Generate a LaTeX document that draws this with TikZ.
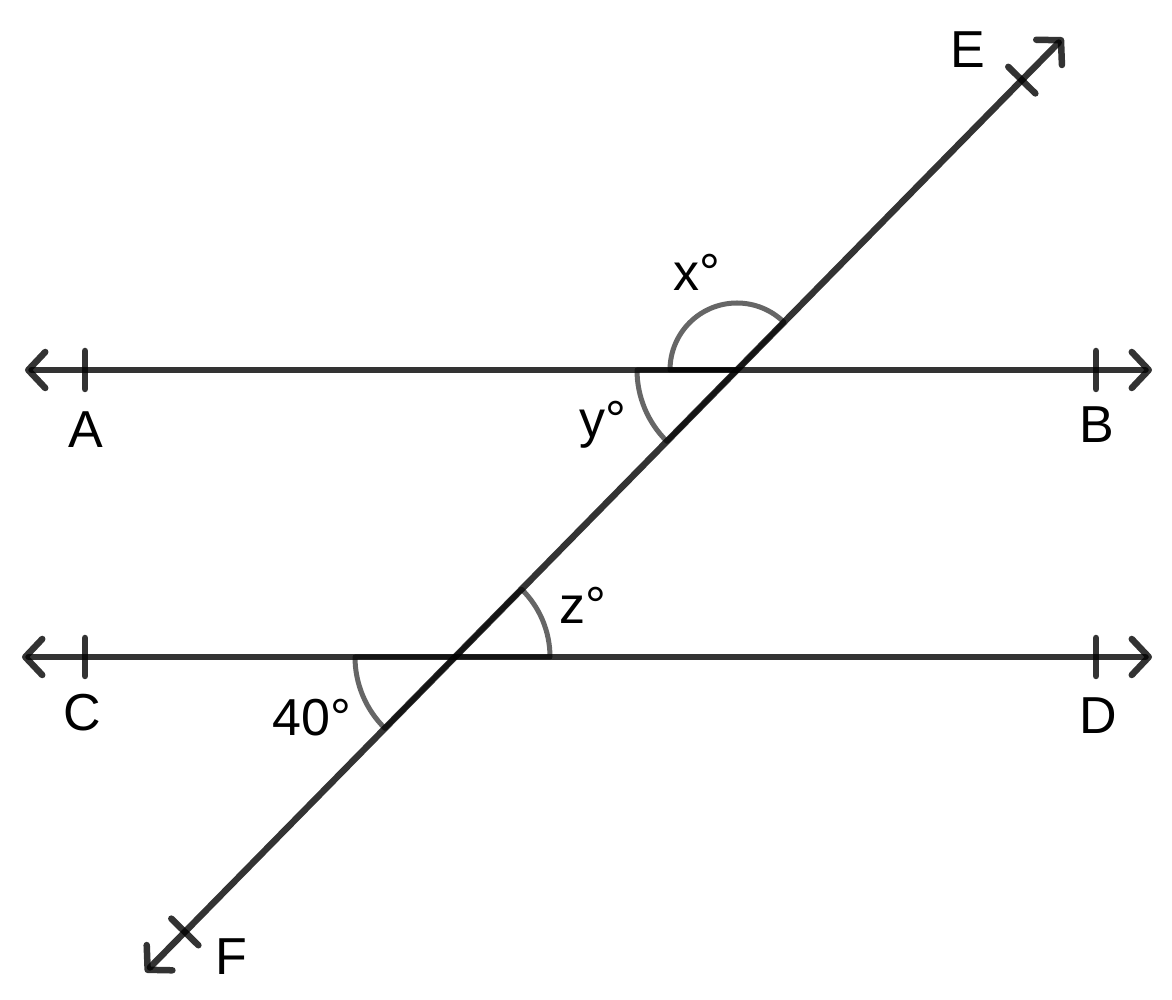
\documentclass[tikz,border=0pt]{standalone}
\usepackage{fontspec}
\setmainfont{Liberation Sans}
\usetikzlibrary{arrows.meta,calc}
\begin{document}
\begin{tikzpicture}[x=1pt, y=1pt,
    line/.style = {draw=black, draw opacity=0.8, line width=6.5pt, line cap=round,
      {Straight Barb[length=17pt,width=36pt,round]}-{Straight Barb[length=17pt,width=36pt,round]}},
    tickmark/.style = {draw=black, draw opacity=0.8, line width=6.5pt, line cap=round},
    anglemark/.style = {draw=black, draw opacity=0.6, line width=5pt, line join=round},
    lbl/.style = {font=\fontsize{52}{62}\selectfont, inner sep=0pt}]
  \useasboundingbox (0,0) rectangle (1172,999);

  \coordinate (A) at (25,629);
  \coordinate (B) at (1152,629);
  \coordinate (C) at (22,342);
  \coordinate (D) at (1152,342);
  \coordinate (P) at (737,629);
  \coordinate (Q) at (455,342);
  \coordinate (E) at ($(Q)!2.157!(P)$);
  \coordinate (F) at ($(Q)!-1.098!(P)$);

  \draw[line] (A) -- (B);
  \draw[line] (C) -- (D);
  \draw[line] (F) -- (E);

  % ticks
  \foreach \x in {85,1096} {
    \draw[tickmark] (\x,610) -- (\x,648);
    \draw[tickmark] (\x,323) -- (\x,361);
  }
  \foreach \t in {2.01,-0.958}
    \draw[tickmark] ($(Q)!\t!(P)$) +(135.5:19) -- +(-44.5:19);

  % angles
  \draw[anglemark] (P) -- ++(180:67) arc[start angle=180, end angle=45.5, radius=67] -- cycle;
  \draw[anglemark] (P) -- ++(180:100) arc[start angle=180, end angle=225.5, radius=100] -- cycle;
  \draw[anglemark] (Q) -- ++(0:95) arc[start angle=0, end angle=45.5, radius=95] -- cycle;
  \draw[anglemark] (Q) -- ++(180:100) arc[start angle=180, end angle=225.5, radius=100] -- cycle;

  \node[lbl] (lE) at (968,949) {E};
  \node[lbl] (lA) at (86,569) {A};
  \node[lbl] (lB) at (1097,574) {B};
  \node[lbl] (lC) at (82,286) {C};
  \node[lbl] (lD) at (1098,283) {D};
  \node[lbl] (lF) at (231,42) {F};
  \node[lbl] (lx) at (697,727) {x°};
  \node[lbl] (ly) at (603,574) {y°};
  \node[lbl] (lz) at (583,394) {z°};
  \node[lbl] (l40) at (312,281) {40°};
\end{tikzpicture}
\end{document}
